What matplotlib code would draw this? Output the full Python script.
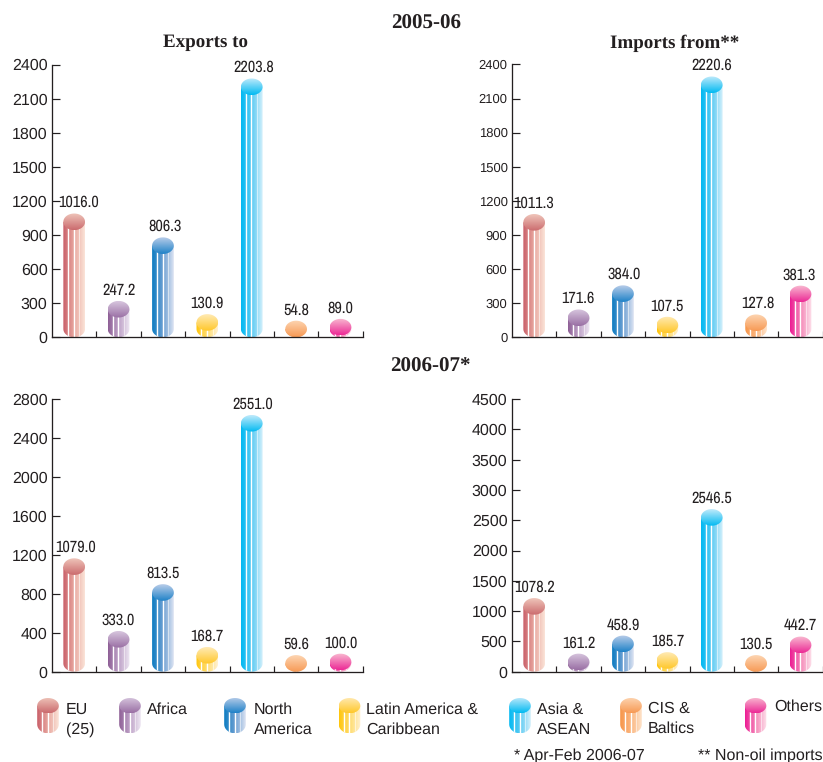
import matplotlib
matplotlib.use("Agg")
import matplotlib.pyplot as plt
import numpy as np
from matplotlib.colors import to_rgb
from matplotlib.patches import PathPatch
from matplotlib.path import Path

plt.rcParams["text.hinting"] = "no_hinting"
plt.rcParams["text.hinting_factor"] = 1

W, H = 823, 762
PX = 0.72  # points per pixel at 100 dpi
INK = "#231f20"
SANS = ["Liberation Sans", "DejaVu Sans"]
NARROW = ["Archivo Narrow", "Liberation Sans", "DejaVu Sans"]
SERIF = ["Liberation Serif", "DejaVu Serif"]

# Regions in display order
regions = ["EU\n(25)", "Africa", "North\nAmerica", "Latin America &\nCaribbean",
           "Asia &\nASEAN", "CIS &\nBaltics", "Others"]

# Trade values by panel
exports_0506 = [1016.0, 247.2, 806.3, 130.9, 2203.8, 54.8, 89.0]
imports_0506 = [1011.3, 171.6, 384.0, 107.5, 2220.6, 127.8, 381.3]
exports_0607 = [1079.0, 333.0, 813.5, 168.7, 2551.0, 59.6, 100.0]
imports_0607 = [1078.2, 161.2, 458.9, 185.7, 2546.5, 130.5, 442.7]

# Y-axis ticks by panel
ticks_exports_0506 = [0, 300, 600, 900, 1200, 1500, 1800, 2100, 2400]
ticks_imports_0506 = [0, 300, 600, 900, 1200, 1500, 1800, 2100, 2400]
ticks_exports_0607 = [0, 400, 800, 1200, 1600, 2000, 2400, 2800]
ticks_imports_0607 = [0, 500, 1000, 1500, 2000, 2500, 3000, 3500, 4000, 4500]

# Body colours (dark, mid, light) and cap colours (top, bottom)
body_colors = [
    ("#c95f69", "#e8a79f", "#fbe4d8"),
    ("#8e5f96", "#bfa3c8", "#eee7f3"),
    ("#0b7cc2", "#6c9fd2", "#dde4f3"),
    ("#ffc60b", "#ffdd70", "#fff1d2"),
    ("#00b9f2", "#5ccbf3", "#d5f0fb"),
    ("#f7964a", "#fbb680", "#fee3ca"),
    ("#ec1c94", "#f58ab9", "#fde1eb"),
]
cap_colors = [
    ("#efc5ba", "#cb6b6e"),
    ("#d7c6de", "#9a6fa4"),
    ("#b9cde9", "#1f82c8"),
    ("#ffeab5", "#ffc82a"),
    ("#c0eafb", "#00baf2"),
    ("#fdd5b2", "#f79a55"),
    ("#f9bbd1", "#ec2a96"),
]

BAR_HALF = 10.85   # half bar width, px
CAP_HALF = 8.3     # half cap height, px


def gradient(stops, n=64):
    pos = np.linspace(0, 1, len(stops))
    rgb = np.array([to_rgb(c) for c in stops])
    t = np.linspace(0, 1, n)
    return np.stack([np.interp(t, pos, rgb[:, k]) for k in range(3)], axis=1)


def ellipse_path(cx, cy, rx, ry):
    th = np.linspace(0, 2 * np.pi, 80)
    return Path(np.column_stack([cx + rx * np.cos(th), cy + ry * np.sin(th)]))


def cylinder(ax, cx, rx, top, bottom, cap_ry, base_ry, body, cap):
    """Draw one striped cylinder: top is the cap centre, bottom the lowest point."""
    base_c = min(bottom + base_ry, top)
    th = np.linspace(np.pi, 2 * np.pi, 40)
    outline = np.vstack([
        [[cx - rx, top]],
        np.column_stack([cx + rx * np.cos(th), base_c + (base_c - bottom) * np.sin(th)]),
        [[cx + rx, top]],
        [[cx - rx, top]],
    ])
    clip = PathPatch(Path(outline), transform=ax.transData)
    img = ax.imshow(gradient(body)[None, :, :], extent=(cx - rx, cx + rx, bottom, top),
                    aspect="auto", interpolation="bilinear", zorder=2)
    img.set_clip_path(clip)
    for frac, alpha, lw in ((0.23, 1.0, 1.4), (0.48, 1.0, 1.4), (0.74, 0.55, 1.0)):
        x = cx - rx + 2 * rx * frac
        ln, = ax.plot([x, x], [bottom, top], color="white", alpha=alpha, lw=lw * PX, zorder=3)
        ln.set_clip_path(clip)
    cap_clip = PathPatch(ellipse_path(cx, top, rx, cap_ry), transform=ax.transData)
    cap_img = ax.imshow(gradient(cap)[:, None, :], origin="upper",
                        extent=(cx - rx, cx + rx, top - cap_ry, top + cap_ry),
                        aspect="auto", interpolation="bilinear", zorder=4)
    cap_img.set_clip_path(cap_clip)


def panel(left, base_px, top_px, values, ticks, nudges, tick_size):
    right = left + 310.7
    ax = fig.add_axes([left / W, (H - base_px) / H, (right - left) / W, (base_px - top_px) / H])
    ax.set_autoscale_on(False)
    ax.set_xlim(0, 7)
    ax.set_ylim(0, ticks[-1])
    ax.patch.set_alpha(0)
    per_px_y = ticks[-1] / (base_px - top_px)
    per_px_x = 7 / (right - left)
    for i, v in enumerate(values):
        centre = max(v, CAP_HALF * per_px_y)
        cylinder(ax, i + 0.5, BAR_HALF * per_px_x, centre, 0, CAP_HALF * per_px_y,
                 CAP_HALF * per_px_y, body_colors[i], cap_colors[i])
        ax.annotate(f"{v:.1f}", xy=(i + 0.5, centre),
                    xytext=(nudges[i] * PX, 19 * PX), textcoords="offset points",
                    ha="center", va="center", fontsize=11.7, family=NARROW, color=INK, zorder=6)
    for side in ("top", "right"):
        ax.spines[side].set_visible(False)
    for side in ("left", "bottom"):
        ax.spines[side].set_linewidth(1.3 * PX)
        ax.spines[side].set_color(INK)
        ax.spines[side].set_zorder(5)
    ax.set_yticks(ticks)
    ax.set_xticks(range(1, 8))
    ax.set_xticklabels([])
    ax.tick_params(axis="y", direction="in", length=8 * PX, width=1.2 * PX, color=INK,
                   pad=4.5 * PX, labelcolor=INK, labelsize=tick_size)
    ax.tick_params(axis="x", direction="in", length=6 * PX, width=1.2 * PX, color=INK)
    for t in ax.get_yticklabels():
        t.set_family(SANS)
    for t in ax.xaxis.get_major_ticks():
        t.tick1line.set_clip_on(False)
    return ax


fig = plt.figure(figsize=(W / 100, H / 100), dpi=100, facecolor="white")

panel(52, 337.3, 64.5, exports_0506, ticks_exports_0506, [4.3, 0.3, 1.7, -0.7, 2, 0, 0], 11.5)
panel(512, 337.3, 64.4, imports_0506, ticks_imports_0506, [-0.7, -0.7, 1, 0, 0, 2, -1], 9.7)
panel(52, 671.7, 399, exports_0607, ticks_exports_0607, [1.3, 0, 0.3, 0, 0.7, 0, 0], 11.5)
panel(512, 671.7, 399, imports_0607, ticks_imports_0607, [0.7, 0.7, 0, 1, 0, -0.7, 0.3], 11.5)

# Headings
def label(x, y, s, **kw):
    fig.text(x / W, (H - y) / H, s, color=INK, **kw)

for x, y, s, size in ((426, 24, "2005-06", 15.3), (205, 42, "Exports to", 13.5),
                      (675, 43, "Imports from**", 13.5), (430, 367, "2006-07*", 15.3)):
    label(x, y, s, ha="center", va="center", family=SERIF, weight="bold", fontsize=size)

# Legend drawn on a full-figure overlay in pixel units
key = fig.add_axes([0, 0, 1, 1])
key.set_autoscale_on(False)
key.set_xlim(0, W)
key.set_ylim(0, H)
key.axis("off")
swatch_x = [48, 130, 235, 349.5, 520, 631, 755.5]
text_x = [66, 147, 253.5, 366.5, 537, 648, 774]
text_y = [710, 710, 710, 710, 710, 709, 707]
for i, name in enumerate(regions):
    cylinder(key, swatch_x[i], 10.8, H - 705.7, H - 733.3, 7.7, 9, body_colors[i], cap_colors[i])
    for j, line in enumerate(name.split("\n")):
        label(text_x[i], text_y[i] + j * 20, line, ha="left", va="center",
              family=SANS, fontsize=11.4)

label(513.5, 756, "* Apr-Feb 2006-07", ha="left", va="center", family=SANS, fontsize=11.4)
label(698, 756, "** Non-oil imports", ha="left", va="center", family=SANS, fontsize=11.4)

fig.savefig("out.png", dpi=100, facecolor="white")
